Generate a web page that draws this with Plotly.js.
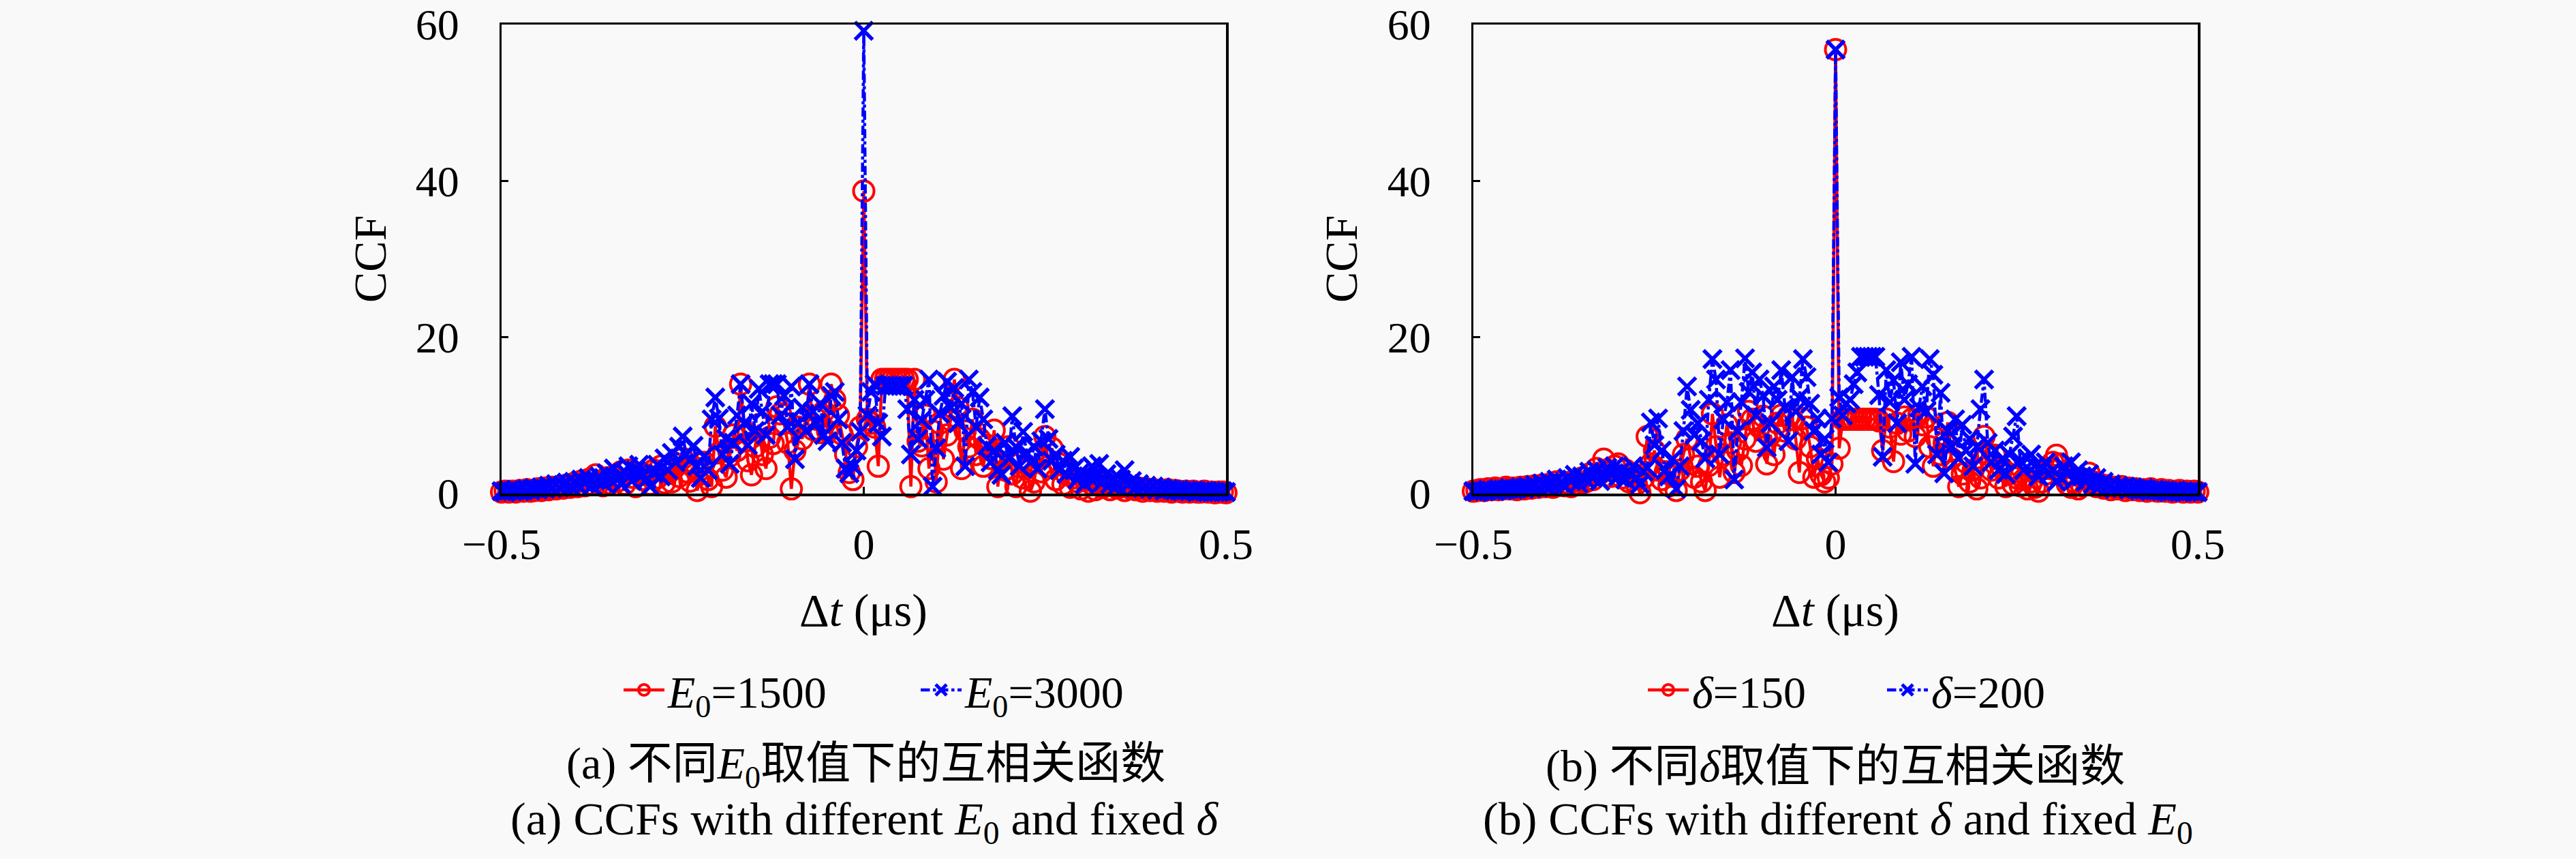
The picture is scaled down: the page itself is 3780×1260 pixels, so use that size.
<!DOCTYPE html>
<html>
<head>
<meta charset="utf-8">
<script src="https://cdn.plot.ly/plotly-3.0.1.min.js"></script>
<style>
  html, body { margin: 0; padding: 0; background: #f9f9f9; }
  #chart { width: 3780px; height: 1260px; }
</style>
</head>
<body>
<div id="chart"></div>
<script>
// ---- sampling grid (Δt, μs) ----
const tStart = -0.5;
const tStep = 0.005;
const tCount = 201;
const deltaT = Array.from({length: tCount}, (_, i) => +(tStart + i * tStep).toFixed(3));

// ---- (a) different E0 ----
const ccfE1500 = [
  0.2,0.3,0.2,0.3,0.2,0.4,0.3,0.5,0.3,0.4,
  0.6,0.4,0.7,0.5,0.8,0.6,0.9,0.7,1.1,0.8,
  1.3,0.9,1.6,1.0,1.8,1.2,2.4,1.4,1.0,2.0,
  1.3,2.2,1.6,2.8,1.2,3.0,2.1,0.9,2.6,1.8,
  2.4,1.2,3.0,2.0,3.5,1.4,2.6,1.5,3.8,2.2,
  4.5,2.8,1.6,3.4,0.4,2.5,4.0,1.8,0.9,8.6,
  5.2,3.0,2.1,4.8,7.5,5.5,14.0,8.0,4.2,2.4,
  6.0,8.8,5.0,3.2,7.2,6.4,11.1,10.2,9.0,6.5,
  0.6,5.5,8.5,7.0,9.6,14.0,8.2,9.5,7.8,10.5,
  8.0,14.0,12.0,10.0,7.6,5.0,2.7,1.8,6.0,8.5,
  38.7,
  9.5,9.0,8.5,3.5,14.6,14.6,14.6,14.6,14.6,14.6,
  14.6,14.6,0.9,14.6,6.7,6.1,10.0,3.2,8.0,1.5,
  9.0,4.4,7.5,9.4,14.6,11.0,3.2,8.0,6.0,9.5,
  5.0,7.0,3.5,6.2,4.5,8.1,0.9,5.0,3.0,6.0,
  2.5,0.9,4.0,2.0,3.2,0.3,1.5,4.5,2.8,7.3,
  3.5,5.8,1.8,3.8,1.2,2.4,0.8,2.0,1.5,0.6,
  1.8,0.3,1.2,0.5,1.5,0.8,1.2,0.5,1.0,0.7,
  0.9,0.4,0.8,0.6,0.5,0.7,0.3,0.6,0.4,0.5,
  0.3,0.4,0.3,0.5,0.2,0.4,0.3,0.2,0.3,0.2,
  0.3,0.2,0.2,0.3,0.2,0.2,0.1,0.2,0.2,0.1
];
const ccfE3000 = [
  0.3,0.2,0.4,0.3,0.5,0.3,0.4,0.6,0.4,0.7,
  0.5,0.8,0.6,1.0,0.7,1.2,0.8,1.1,1.4,0.9,
  1.5,1.1,1.8,1.3,2.0,1.0,1.7,2.2,1.4,2.6,
  1.8,3.2,2.0,1.2,2.8,3.5,1.6,3.0,3.7,2.5,
  1.8,0.9,2.6,3.7,2.2,4.5,3.0,5.2,4.0,6.0,
  7.3,5.0,4.2,6.1,3.5,2.0,4.8,3.0,9.5,12.3,
  9.6,5.0,7.0,3.8,6.5,10.0,14.0,9.0,6.2,11.5,
  8.0,13.4,10.5,7.5,14.0,14.0,14.0,10.0,12.5,8.5,
  13.7,4.4,9.0,11.0,8.0,14.0,10.5,9.0,11.5,7.5,
  6.7,12.5,13.0,9.5,6.5,3.2,2.6,3.5,5.5,7.9,
  59.2,
  10.0,13.0,14.0,9.0,7.3,13.8,13.8,13.8,13.8,13.8,
  13.8,10.8,5.0,12.0,7.0,9.4,12.0,14.6,0.9,5.8,
  10.2,12.5,14.3,11.0,13.5,9.0,11.5,3.5,14.6,13.0,
  8.5,12.3,9.5,6.1,4.0,5.5,3.0,2.4,6.5,4.5,
  9.9,6.0,3.5,7.9,5.2,4.0,6.0,3.2,6.7,10.8,
  7.0,4.2,5.0,3.0,4.2,2.5,4.7,3.2,1.8,2.8,
  1.2,2.2,3.5,2.0,3.8,1.5,2.5,1.2,2.0,1.0,
  1.8,3.0,1.2,1.6,0.8,1.2,0.7,1.0,0.6,0.9,
  0.5,0.8,0.4,0.6,0.5,0.4,0.5,0.3,0.4,0.3,
  0.4,0.2,0.3,0.3,0.2,0.3,0.2,0.2,0.3,0.2
];

// ---- (b) different delta ----
const ccfD150 = [
  0.3,0.4,0.5,0.4,0.6,0.5,0.7,0.5,0.6,0.8,
  0.6,0.7,0.5,0.8,0.6,0.9,0.7,1.0,0.8,1.1,
  0.9,1.2,0.8,1.5,1.1,1.0,1.4,0.9,1.6,1.2,
  2.0,1.5,2.5,1.8,3.2,2.6,4.4,3.0,2.2,3.5,
  3.8,2.0,3.0,1.5,2.5,1.2,0.1,2.0,7.3,3.8,
  5.5,3.0,1.8,2.8,1.0,2.2,0.4,3.0,5.0,7.0,
  4.5,2.1,3.5,1.5,0.4,3.6,10.2,6.0,2.1,5.0,
  8.8,6.5,2.7,5.5,3.6,7.0,10.5,9.5,6.7,8.5,
  9.9,3.8,7.5,5.0,9.0,10.0,8.0,9.9,9.5,7.0,
  2.7,9.6,8.5,6.0,2.1,4.5,2.4,1.5,2.0,3.8,
  56.8,
  5.8,9.5,9.5,9.5,9.5,9.5,9.5,9.5,9.5,9.5,
  9.5,9.3,5.5,9.5,8.5,4.1,9.0,7.6,9.8,8.0,
  9.5,7.3,10.0,8.8,9.8,6.0,3.5,7.0,5.0,6.5,
  9.1,4.5,3.0,0.9,2.5,4.0,1.5,3.0,0.6,2.0,
  7.3,5.0,3.0,4.9,2.0,3.2,0.9,2.5,1.2,2.0,
  1.0,1.8,0.6,1.5,0.8,0.3,1.5,2.5,3.2,4.0,
  4.9,3.8,2.5,1.2,0.8,1.5,0.6,1.0,1.8,2.6,
  1.5,0.9,1.2,0.7,1.0,0.5,0.8,0.6,0.9,0.4,
  0.7,0.5,0.6,0.4,0.5,0.3,0.6,0.4,0.3,0.5,
  0.3,0.4,0.2,0.3,0.4,0.2,0.3,0.2,0.3,0.2
];
const ccfD200 = [
  0.3,0.2,0.4,0.3,0.5,0.4,0.3,0.6,0.4,0.5,
  0.7,0.5,0.6,0.8,0.6,0.9,0.7,1.1,0.8,1.3,
  1.0,1.5,1.2,1.8,1.4,1.1,2.0,1.6,2.4,1.3,
  2.2,1.8,2.8,2.0,3.0,1.6,2.5,3.3,2.4,3.5,
  2.2,3.0,1.8,2.6,3.5,2.0,1.2,2.8,3.3,9.1,
  6.2,9.6,5.5,3.0,2.2,4.4,0.6,3.5,8.0,13.7,
  10.7,7.5,9.0,6.7,4.5,12.0,17.2,14.6,5.0,9.5,
  11.7,15.8,1.8,8.0,11.7,17.3,13.0,15.5,10.0,14.6,
  12.5,5.9,9.0,13.7,12.0,15.8,11.0,6.7,14.9,10.5,
  12.3,17.2,14.9,11.5,8.0,9.6,5.0,7.0,4.0,9.6,
  56.8,
  12.3,10.0,11.5,12.0,14.0,15.5,17.5,17.5,17.5,17.5,
  17.5,12.6,4.7,15.8,11.7,14.5,9.0,16.8,12.0,14.0,
  17.5,3.8,11.0,13.7,10.5,17.2,15.2,5.0,12.9,2.6,
  8.0,6.0,9.5,4.5,8.8,5.5,7.0,3.5,6.0,10.8,
  14.6,6.5,4.0,5.5,3.0,4.4,2.5,5.0,7.3,9.9,
  4.2,3.0,4.5,5.0,3.5,2.2,3.2,4.0,2.5,3.0,
  1.5,2.1,3.5,2.5,4.0,1.8,3.0,2.2,1.5,2.5,
  1.2,2.0,1.0,1.5,0.8,1.2,0.6,1.0,0.7,0.9,
  0.5,0.8,0.6,0.4,0.7,0.5,0.3,0.5,0.4,0.3,
  0.4,0.2,0.3,0.4,0.2,0.3,0.2,0.3,0.2,0.2
];

// ---- labels ----
const nameE1500 = '<i>E</i><sub>0</sub>=1500';
const nameE3000 = '<i>E</i><sub>0</sub>=3000';
const nameD150 = '<i>δ</i>=150';
const nameD200 = '<i>δ</i>=200';
const yTickVals = [0, 20, 40, 60];
const xTickVals = [-0.5, 0, 0.5];
const xTickText = ['−0.5', '0', '0.5'];
const yTitle = 'CCF';
const xTitle = 'Δ<i>t</i> (μs)';
const captionA1 = '(a) 不同<i>E</i><sub>0</sub>取值下的互相关函数';
const captionA2 = '(a) CCFs with different <i>E</i><sub>0</sub> and fixed <i>δ</i>';
const captionB1 = '(b) 不同<i>δ</i>取值下的互相关函数';
const captionB2 = '(b) CCFs with different <i>δ</i> and fixed <i>E</i><sub>0</sub>';

const W = 3780, H = 1260;
const FONT = 'Liberation Serif, Noto Sans CJK SC, serif';
const FS = 64;
const RED = '#ff0000', BLUE = '#0000ff';

function redTrace(y, name, xa, ya, lg) {
  return {
    x: deltaT, y: y, name: name, xaxis: xa, yaxis: ya, legend: lg,
    type: 'scatter', mode: 'lines+markers', cliponaxis: false,
    line: {color: RED, width: 4.5},
    marker: {symbol: 'circle-open', size: 30, color: RED, line: {color: RED, width: 4}}
  };
}
function blueTrace(y, name, xa, ya, lg) {
  return {
    x: deltaT, y: y, name: name, xaxis: xa, yaxis: ya, legend: lg,
    type: 'scatter', mode: 'lines+markers', cliponaxis: false,
    line: {color: BLUE, width: 4.5, dash: 'dashdot'},
    marker: {symbol: 'x-thin-open', size: 26, color: BLUE, line: {color: BLUE, width: 5.5}}
  };
}

const data = [
  redTrace(ccfE1500, nameE1500, 'x', 'y', 'legend'),
  blueTrace(ccfE3000, nameE3000, 'x', 'y', 'legend'),
  redTrace(ccfD150, nameD150, 'x2', 'y2', 'legend2'),
  blueTrace(ccfD200, nameD200, 'x2', 'y2', 'legend2')
];

const px = v => v / W;
const py = v => 1 - v / H;

function xAxis(domain, anchor) {
  return {
    domain: domain, anchor: anchor, range: [-0.5, 0.5],
    tickmode: 'array', tickvals: xTickVals, ticktext: xTickText,
    ticks: 'inside', ticklen: 10, tickwidth: 3, tickcolor: '#000',
    showline: true, mirror: true, linecolor: '#000', linewidth: 3.5,
    showgrid: false, zeroline: false, ticklabelstandoff: 16,
    tickfont: {family: FONT, size: FS, color: '#000'}
  };
}
function yAxis(anchor) {
  return {
    domain: [py(724), py(36)], anchor: anchor, range: [0, 60],
    tickmode: 'array', tickvals: yTickVals,
    ticks: 'inside', ticklen: 10, tickwidth: 3, tickcolor: '#000',
    showline: true, mirror: true, linecolor: '#000', linewidth: 3.5,
    showgrid: false, zeroline: false, ticklabelstandoff: 46,
    tickfont: {family: FONT, size: FS, color: '#000'}
  };
}

function ann(text, x, y, size, extra) {
  return Object.assign({
    text: text, xref: 'paper', yref: 'paper', x: px(x), y: py(y),
    xanchor: 'center', yanchor: 'middle', showarrow: false,
    font: {family: FONT, size: size, color: '#000'}
  }, extra || {});
}

const legendCommon = {
  orientation: 'h', xanchor: 'left', yanchor: 'middle',
  bgcolor: 'rgba(0,0,0,0)', traceorder: 'normal', itemwidth: 60,
  entrywidthmode: 'pixels',
  font: {family: FONT, size: 66, color: '#000'}
};

const layout = {
  width: W, height: H,
  margin: {l: 0, r: 0, t: 0, b: 0},
  paper_bgcolor: '#f9f9f9', plot_bgcolor: '#f9f9f9',
  showlegend: true,
  xaxis: xAxis([px(736), px(1799)], 'y'),
  yaxis: yAxis('x'),
  xaxis2: xAxis([px(2162), px(3225)], 'y2'),
  yaxis2: yAxis('x2'),
  legend: Object.assign({x: px(910), y: py(1012), entrywidth: 361}, legendCommon),
  legend2: Object.assign({x: px(2413), y: py(1012), entrywidth: 276}, legendCommon),
  annotations: [
    ann(yTitle, 543, 380, 68, {textangle: -90}),
    ann(yTitle, 1968, 380, 68, {textangle: -90}),
    ann(xTitle, 1267, 895, 68),
    ann(xTitle, 2693, 895, 68),
    ann(captionA1, 1270, 1124, 66),
    ann(captionA2, 1268, 1205, 68),
    ann(captionB1, 2693, 1124, 66),
    ann(captionB2, 2697, 1205, 68)
  ]
};

Plotly.newPlot('chart', data, layout, {staticPlot: true, displayModeBar: false});
</script>
</body>
</html>
